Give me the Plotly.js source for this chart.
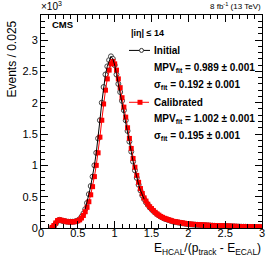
<!DOCTYPE html>
<html>
<head>
<meta charset="utf-8">
<script src="https://cdn.plot.ly/plotly-3.0.1.min.js"></script>
<style>html,body{margin:0;padding:0;background:#fff;}#chart{width:273px;height:262px;}</style>
</head>
<body>
<div id="chart"></div>
<script>
// Histogram bin positions (bin width 0.025), values in units of 10^3 events
const binStart = 0.15;
const binWidth = 0.025;
const initialValues = [
  0.00, 0.03, 0.07, 0.11, 0.13, 0.12, 0.11, 0.11, 0.10, 0.10,
  0.10, 0.10, 0.10, 0.11, 0.12, 0.14, 0.18, 0.23, 0.30, 0.40,
  0.54, 0.67, 0.82, 1.00, 1.20, 1.43, 1.72, 2.00, 2.25, 2.45,
  2.58, 2.68, 2.74, 2.70, 2.60, 2.45, 2.30, 2.17, 2.03, 1.88,
  1.72, 1.55, 1.38, 1.22, 1.06, 0.92, 0.80, 0.69, 0.60, 0.52,
  0.46, 0.41, 0.37, 0.33, 0.30, 0.27, 0.245, 0.22, 0.20, 0.18,
  0.165, 0.15, 0.14, 0.13, 0.12, 0.11, 0.10, 0.095, 0.09, 0.085,
  0.08, 0.075, 0.07, 0.065, 0.06,
  0.058, 0.056, 0.054, 0.052, 0.050, 0.048, 0.046, 0.044, 0.043, 0.041,
  0.040, 0.038, 0.037, 0.036, 0.034, 0.033, 0.032, 0.031, 0.030, 0.029,
  0.028, 0.027, 0.026, 0.025, 0.024, 0.023, 0.022, 0.021, 0.020, 0.020,
  0.019, 0.018, 0.017, 0.017, 0.016, 0.015, 0.015, 0.014, 0.013, 0.012
];
const calibratedValues = [
  0.01, 0.04, 0.08, 0.12, 0.13, 0.125, 0.115, 0.11, 0.10, 0.10,
  0.095, 0.10, 0.10, 0.105, 0.115, 0.13, 0.16, 0.20, 0.26, 0.33,
  0.42, 0.53, 0.66, 0.82, 1.00, 1.20, 1.45, 1.72, 1.98, 2.20,
  2.38, 2.52, 2.62, 2.66, 2.62, 2.52, 2.38, 2.24, 2.08, 1.93,
  1.77, 1.60, 1.43, 1.27, 1.11, 0.97, 0.84, 0.73, 0.63, 0.55,
  0.48, 0.43, 0.38, 0.34, 0.31, 0.28, 0.25, 0.225, 0.205, 0.185,
  0.17, 0.155, 0.145, 0.135, 0.125, 0.115, 0.105, 0.10, 0.095, 0.09,
  0.085, 0.08, 0.075, 0.07, 0.065,
  0.062, 0.060, 0.058, 0.056, 0.054, 0.052, 0.050, 0.048, 0.046, 0.045,
  0.043, 0.042, 0.040, 0.039, 0.038, 0.036, 0.035, 0.034, 0.033, 0.032,
  0.031, 0.030, 0.029, 0.028, 0.027, 0.026, 0.025, 0.024, 0.023, 0.023,
  0.022, 0.021, 0.020, 0.020, 0.019, 0.018, 0.017, 0.016, 0.016, 0.015
];
const xTickVals = [0, 0.5, 1, 1.5, 2, 2.5, 3];
const xTickText = ['0', '0.5', '1', '1.5', '2', '2.5', '3'];
const yTickVals = [0, 0.5, 1, 1.5, 2, 2.5, 3];
const yTickText = ['0', '0.5', '1', '1.5', '2', '2.5', '3'];
const fitRange = [0.6, 1.4];

const xBins = initialValues.map((_, i) => +(binStart + i * binWidth).toFixed(4));
const inFit = x => x >= fitRange[0] && x <= fitRange[1];
const fitX = xBins.filter(inFit);
const fitInit = initialValues.filter((_, i) => inFit(xBins[i]));
const fitCal = calibratedValues.filter((_, i) => inFit(xBins[i]));

const FONT = 'Liberation Sans, Arial, sans-serif';

const traces = [
  {x: xBins, y: initialValues, mode: 'markers', type: 'scatter',
   marker: {symbol: 'circle', size: 5, color: '#ffffff', line: {color: '#444444', width: 1}}},
  {x: xBins, y: calibratedValues, mode: 'markers', type: 'scatter',
   marker: {symbol: 'square', size: 5, color: '#ff0000', line: {width: 0}}},
  {x: fitX, y: fitCal, mode: 'lines', type: 'scatter', line: {color: '#ff0000', width: 1}},
  {x: fitX, y: fitInit, mode: 'lines', type: 'scatter', line: {color: '#000000', width: 1}}
];

const L = 41, R = 262, T = 15, B = 228.5;
const px = p => (p - L) / (R - L);
const py = p => (B - p) / (B - T);

function txt(text, x, y, opts) {
  return Object.assign({text: text, x: px(x), y: py(y), xref: 'paper', yref: 'paper',
    xanchor: 'left', yanchor: 'middle', showarrow: false,
    font: {family: FONT, size: 10, color: '#000'}}, opts || {});
}

const annotations = [
  txt('<b>CMS</b>', 50, 25, {font: {family: FONT, size: 9.5, color: '#000'}}),
  txt('×10<sup>3</sup>', 39, 6, {font: {family: FONT, size: 10, color: '#000'}}),
  txt('8 fb<sup>-1</sup> (13 TeV)', 263, 6, {xanchor: 'right', font: {family: FONT, size: 8, color: '#000'}}),
  txt('<b>|iη| ≤ 14</b>', 129, 33, {font: {family: FONT, size: 9, color: '#000'}}),
  txt('<b>Initial</b>', 152, 50.5),
  txt('<b>MPV<sub>fit</sub> = 0.989 ± 0.001</b>', 152, 68),
  txt('<b>σ<sub>fit</sub> = 0.192 ± 0.001</b>', 152, 85.5),
  txt('<b>Calibrated</b>', 152, 102.5),
  txt('<b>MPV<sub>fit</sub> = 1.002 ± 0.001</b>', 152, 119.5),
  txt('<b>σ<sub>fit</sub> = 0.195 ± 0.001</b>', 152, 136.5),
  txt('Events / 0.025', 12, 19, {textangle: -90, xanchor: 'center', yanchor: 'top',
     font: {family: FONT, size: 12, color: '#000'}}),
  txt('E<sub>HCAL</sub>/(p<sub>track</sub> - E<sub>ECAL</sub>)', 263, 250, {xanchor: 'right',
     font: {family: FONT, size: 12, color: '#000'}})
];

const shapes = [
  {type: 'line', xref: 'paper', yref: 'paper', x0: px(129), x1: px(150), y0: py(50.5), y1: py(50.5),
   line: {color: '#000', width: 1}},
  {type: 'circle', xref: 'paper', yref: 'paper', x0: px(139.5), x1: px(143.5), y0: py(48.5), y1: py(52.5),
   fillcolor: '#fff', line: {color: '#333', width: 1}},
  {type: 'line', xref: 'paper', yref: 'paper', x0: px(129), x1: px(149), y0: py(102.5), y1: py(102.5),
   line: {color: '#ff0000', width: 1}},
  {type: 'rect', xref: 'paper', yref: 'paper', x0: px(137.5), x1: px(142.5), y0: py(100), y1: py(105),
   fillcolor: '#ff0000', line: {width: 0}}
];

const axisCommon = {
  showgrid: false, zeroline: false, showline: true, linecolor: '#000', linewidth: 1,
  mirror: 'ticks', ticks: 'inside', ticklen: 7, tickcolor: '#000', tickwidth: 1,
  tickfont: {family: FONT, size: 11, color: '#000'}, tickmode: 'array'
};

const layout = {
  width: 273, height: 262,
  margin: {l: L, r: 273 - R, t: T, b: 262 - B, pad: 0},
  paper_bgcolor: '#fff', plot_bgcolor: '#fff',
  showlegend: false,
  xaxis: Object.assign({}, axisCommon, {range: [0, 3], tickvals: xTickVals, ticktext: xTickText,
    ticklabelstandoff: -5,
    minor: {ticks: 'inside', ticklen: 4, dtick: 0.1, tick0: 0, tickcolor: '#000'}}),
  yaxis: Object.assign({}, axisCommon, {range: [0, 3.4], tickvals: yTickVals, ticktext: yTickText,
    minor: {ticks: 'inside', ticklen: 4, dtick: 0.1, tick0: 0, tickcolor: '#000'}}),
  annotations: annotations,
  shapes: shapes
};

Plotly.newPlot('chart', traces, layout, {displayModeBar: false, staticPlot: true});
</script>
</body>
</html>
